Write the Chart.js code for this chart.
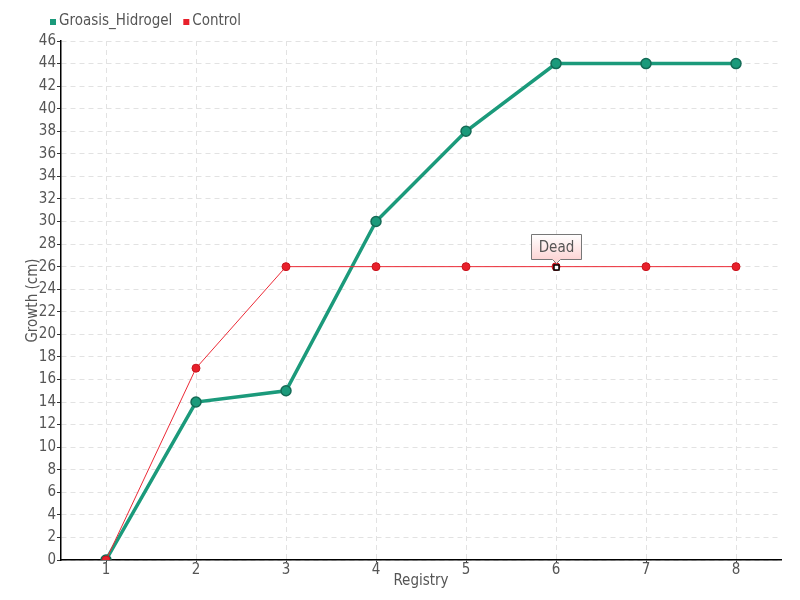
<!DOCTYPE html>
<html>
<head>
<meta charset="utf-8">
<script src="https://cdn.jsdelivr.net/npm/chart.js@4/dist/chart.umd.min.js"></script>
<style>
  html, body { margin: 0; padding: 0; background: #fff; }
  #wrap { width: 800px; height: 600px; }
</style>
</head>
<body>
<div id="wrap"><canvas id="c" width="800" height="600"></canvas></div>
<script>
// === Data ===
const registry = ['1', '2', '3', '4', '5', '6', '7', '8'];
const groasis = [0, 14, 15, 30, 38, 44, 44, 44];
const control = [0, 17, 26, 26, 26, 26, 26, 26];
const deadIndex = 5;
const deadLabel = 'Dead';

const FONT = "'Liberation Sans Narrow', 'DejaVu Sans Condensed', sans-serif";
const GREEN = '#1b9a7b';
const RED = '#ec2a36';

// === Legend (top left, small squares) ===
Chart.register({
  id: 'miniLegend',
  afterDraw(chart) {
    const ctx = chart.ctx;
    let x = 50;
    const y = 21;
    ctx.save();
    ctx.font = `15px ${FONT}`;
    ctx.textBaseline = 'middle';
    chart.data.datasets.forEach(ds => {
      ctx.fillStyle = ds.pointBackgroundColor;
      ctx.fillRect(x, y - 2, 6, 6);
      ctx.fillStyle = '#555';
      ctx.fillText(ds.label, x + 9, y);
      x += 9 + ctx.measureText(ds.label).width + 11;
    });
    ctx.restore();
  }
});

// === "Dead" callout on the control series ===
Chart.register({
  id: 'deadNote',
  afterDatasetsDraw(chart) {
    const meta = chart.getDatasetMeta(1);
    const pt = meta.data[deadIndex];
    if (!pt) return;
    const ctx = chart.ctx;
    const x = Math.round(pt.x) + 0.5, y = Math.round(pt.y) + 0.5;

    ctx.save();
    ctx.fillStyle = '#fff';
    ctx.strokeStyle = '#000';
    ctx.lineWidth = 1.5;
    ctx.fillRect(x - 2.5, y - 2.5, 5, 5);
    ctx.strokeRect(x - 2.5, y - 2.5, 5, 5);

    const w = 50, h = 25;
    const bx = x - 25, by = y - 33;
    const g = ctx.createLinearGradient(0, by, 0, by + h);
    g.addColorStop(0, '#ffffff');
    g.addColorStop(1, '#fdd5d5');
    ctx.beginPath();
    ctx.moveTo(bx, by);
    ctx.lineTo(bx + w, by);
    ctx.lineTo(bx + w, by + h);
    ctx.lineTo(x + 4, by + h);
    ctx.lineTo(x, y - 4);
    ctx.lineTo(x - 4, by + h);
    ctx.lineTo(bx, by + h);
    ctx.closePath();
    ctx.fillStyle = g;
    ctx.fill();
    ctx.strokeStyle = '#777';
    ctx.lineWidth = 1;
    ctx.stroke();

    ctx.fillStyle = '#555';
    ctx.font = `15px ${FONT}`;
    ctx.textAlign = 'center';
    ctx.textBaseline = 'middle';
    ctx.fillText(deadLabel, x, by + h / 2 + 1);
    ctx.restore();
  }
});

const ctx = document.getElementById('c');
new Chart(ctx, {
  type: 'line',
  data: {
    labels: registry,
    datasets: [
      {
        label: 'Groasis_Hidrogel',
        data: groasis,
        borderColor: GREEN,
        backgroundColor: GREEN,
        borderWidth: 3.5,
        pointRadius: 5,
        pointBackgroundColor: GREEN,
        pointBorderColor: '#146b56',
        pointBorderWidth: 1.5,
        tension: 0,
        order: 1
      },
      {
        label: 'Control',
        data: control,
        borderColor: RED,
        backgroundColor: RED,
        borderWidth: 1,
        pointRadius: 4,
        pointBackgroundColor: '#e8202b',
        pointBorderColor: '#c8141e',
        pointBorderWidth: 1,
        tension: 0,
        order: 0
      }
    ]
  },
  options: {
    responsive: false,
    animation: false,
    layout: { padding: { left: 0, right: 19, top: 41, bottom: 0 } },
    plugins: {
      tooltip: { enabled: false },
      legend: { display: false }
    },
    scales: {
      x: {
        offset: true,
        border: { color: '#000', width: 1.5, dash: [5, 4] },
        grid: {
          color: '#e2e2e2',
          tickColor: '#333',
          tickLength: 2,
          offset: false
        },
        ticks: { color: '#555', font: { family: FONT, size: 15 }, padding: -1 },
        title: {
          display: true, text: 'Registry', color: '#555',
          font: { family: FONT, size: 15 }, padding: { top: 0, bottom: 10 }
        },
        afterFit(scale) { scale.height = 40; }
      },
      y: {
        min: 0,
        max: 46,
        border: { color: '#000', width: 1.5, dash: [5, 4] },
        grid: {
          color: '#e2e2e2',
          tickColor: '#333',
          tickLength: 4
        },
        ticks: { stepSize: 2, color: '#555', font: { family: FONT, size: 15 }, padding: 1 },
        title: {
          display: true, text: 'Growth (cm)', color: '#555',
          font: { family: FONT, size: 15 }, padding: { top: 24, bottom: 0 }
        },
        afterFit(scale) { scale.width = 61; }
      }
    }
  }
});
</script>
</body>
</html>
